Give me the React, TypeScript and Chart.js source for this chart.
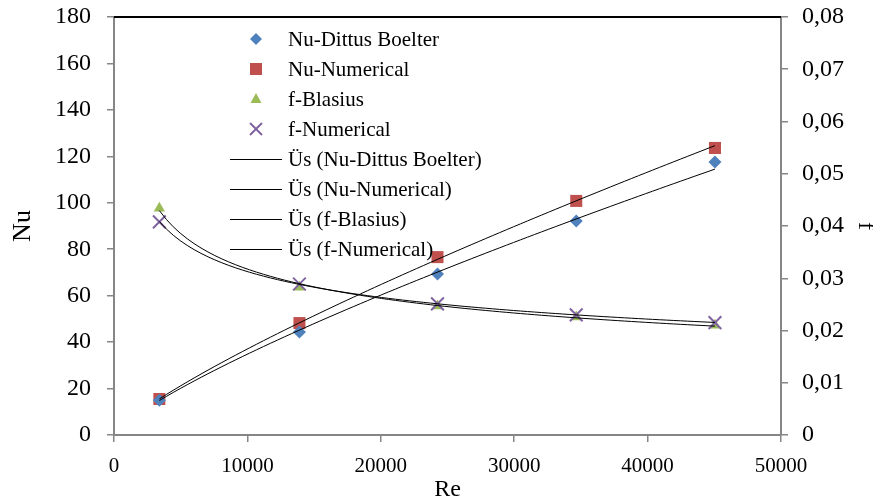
import { useEffect, useRef } from 'react';
import { Chart, registerables } from 'chart.js';

Chart.register(...registerables);

// ---- data ----
const reynolds = [3400, 13900, 24250, 34650, 45050];
const nuDittusBoelter = [15.0, 44.4, 69.3, 92.2, 117.6];
const nuNumerical = [15.5, 48.2, 76.6, 100.8, 123.6];
const fBlasius = [0.0434, 0.0283, 0.0247, 0.0226, 0.021];
const fNumerical = [0.0408, 0.0289, 0.0251, 0.023, 0.0215];

const seriesNames = ['Nu-Dittus Boelter', 'Nu-Numerical', 'f-Blasius', 'f-Numerical'];
const trendPrefix = 'Üs';
const xAxisTitle = 'Re';
const yAxisTitle = 'Nu';
const y1AxisTitle = 'f';

const COLORS = ['#4F81BD', '#C0504D', '#9BBB59', '#8064A2'];
const FONT = "'Liberation Serif', 'Times New Roman', serif";

// Power trendline (Excel "Üs"): y = a * x^b, least squares in log-log space
function powerFit(xs: number[], ys: number[]) {
  const lx = xs.map(Math.log);
  const ly = ys.map(Math.log);
  const n = xs.length;
  const mx = lx.reduce((s, v) => s + v, 0) / n;
  const my = ly.reduce((s, v) => s + v, 0) / n;
  let num = 0;
  let den = 0;
  for (let i = 0; i < n; i++) {
    num += (lx[i] - mx) * (ly[i] - my);
    den += (lx[i] - mx) * (lx[i] - mx);
  }
  const b = num / den;
  const a = Math.exp(my - b * mx);
  const x0 = Math.min(...xs);
  const x1 = Math.max(...xs);
  const pts: { x: number; y: number }[] = [];
  const steps = 80;
  for (let i = 0; i <= steps; i++) {
    const x = x0 + ((x1 - x0) * i) / steps;
    pts.push({ x, y: a * Math.pow(x, b) });
  }
  return pts;
}

const toPts = (ys: number[]) => reynolds.map((x, i) => ({ x, y: ys[i] }));

const overlayPlugin = {
  id: 'overlay',
  afterDraw(chart: any) {
    const ctx = chart.ctx as CanvasRenderingContext2D;
    const { left, right, top } = chart.chartArea;
    ctx.save();
    // top border
    ctx.strokeStyle = '#000';
    ctx.lineWidth = 2;
    ctx.beginPath();
    ctx.moveTo(left, top);
    ctx.lineTo(right, top);
    ctx.stroke();

    // legend
    const lx = left + 116;
    const mx = left + 142;
    const tx = left + 174;
    const y0 = top + 22;
    const dy = 30;
    ctx.font = `21px ${FONT}`;
    ctx.textBaseline = 'middle';
    ctx.textAlign = 'left';
    const labels = [
      ...seriesNames,
      ...seriesNames.map((s) => `${trendPrefix} (${s})`),
    ];
    labels.forEach((label, i) => {
      const y = y0 + i * dy;
      if (i < 4) {
        ctx.fillStyle = COLORS[i];
        ctx.strokeStyle = COLORS[i];
        ctx.beginPath();
        if (i === 0) {
          ctx.moveTo(mx, y - 6);
          ctx.lineTo(mx + 6, y);
          ctx.lineTo(mx, y + 6);
          ctx.lineTo(mx - 6, y);
          ctx.closePath();
          ctx.fill();
        } else if (i === 1) {
          ctx.rect(mx - 6, y - 6, 12, 12);
          ctx.fill();
        } else if (i === 2) {
          ctx.moveTo(mx, y - 6);
          ctx.lineTo(mx + 5.5, y + 4);
          ctx.lineTo(mx - 5.5, y + 4);
          ctx.closePath();
          ctx.fill();
        } else {
          ctx.lineWidth = 2;
          ctx.moveTo(mx - 6, y - 6);
          ctx.lineTo(mx + 6, y + 6);
          ctx.moveTo(mx + 6, y - 6);
          ctx.lineTo(mx - 6, y + 6);
          ctx.stroke();
        }
      } else {
        ctx.strokeStyle = '#000';
        ctx.lineWidth = 1;
        ctx.beginPath();
        ctx.moveTo(lx, y + 0.5);
        ctx.lineTo(lx + 52, y + 0.5);
        ctx.stroke();
      }
      ctx.fillStyle = '#000';
      ctx.fillText(label, tx, y + 1);
    });
    ctx.restore();
  },
};

export default function App() {
  const ref = useRef<HTMLCanvasElement | null>(null);

  useEffect(() => {
    if (!ref.current) return;
    const trendDs = (ys: number[], axis: string) => ({
      label: 'trend',
      data: powerFit(reynolds, ys),
      yAxisID: axis,
      showLine: true,
      borderColor: '#000',
      borderWidth: 1,
      pointRadius: 0,
      fill: false,
      tension: 0,
      order: 0,
    });
    const chart = new Chart(ref.current, {
      type: 'scatter',
      data: {
        datasets: [
          {
            label: seriesNames[0],
            data: toPts(nuDittusBoelter),
            yAxisID: 'y',
            pointStyle: 'rectRot',
            pointRadius: 6.5,
            backgroundColor: COLORS[0],
            borderColor: COLORS[0],
            borderWidth: 0,
            order: 2,
          },
          {
            label: seriesNames[1],
            data: toPts(nuNumerical),
            yAxisID: 'y',
            pointStyle: 'rect',
            pointRadius: 8.5,
            backgroundColor: COLORS[1],
            borderColor: COLORS[1],
            borderWidth: 0,
            order: 2,
          },
          {
            label: seriesNames[2],
            data: toPts(fBlasius),
            yAxisID: 'y1',
            pointStyle: 'triangle',
            pointRadius: 6.5,
            backgroundColor: COLORS[2],
            borderColor: COLORS[2],
            borderWidth: 0,
            order: 2,
          },
          {
            label: seriesNames[3],
            data: toPts(fNumerical),
            yAxisID: 'y1',
            pointStyle: 'crossRot',
            pointRadius: 9,
            backgroundColor: COLORS[3],
            borderColor: COLORS[3],
            borderWidth: 2,
            order: 1,
          },
          trendDs(nuDittusBoelter, 'y'),
          trendDs(nuNumerical, 'y'),
          trendDs(fBlasius, 'y1'),
          trendDs(fNumerical, 'y1'),
        ] as any,
      },
      options: {
        responsive: false,
        animation: false,
        devicePixelRatio: 1,
        layout: { padding: { top: 17, left: 0, right: 0, bottom: 0 } },
        plugins: {
          legend: { display: false },
          tooltip: { enabled: false },
        },
        scales: {
          x: {
            type: 'linear',
            min: 0,
            max: 50000,
            afterFit: (s: any) => {
              s.height = 67;
              s.paddingLeft = 0;
              s.paddingRight = 0;
            },
            ticks: {
              stepSize: 10000,
              color: '#000',
              font: { family: FONT, size: 21 },
              padding: 12,
              maxRotation: 0,
              callback: (v: any) => String(v),
            },
            grid: {
              drawOnChartArea: false,
              drawTicks: true,
              tickLength: 7,
              color: '#868686',
              lineWidth: 1.5,
            },
            border: { display: true, color: '#868686', width: 2 },
            title: {
              display: true,
              text: xAxisTitle,
              color: '#000',
              font: { family: FONT, size: 24 },
              padding: { top: 0, bottom: -2 },
            },
          },
          y: {
            type: 'linear',
            position: 'left',
            min: 0,
            max: 180,
            afterFit: (s: any) => {
              s.width = 114;
              s.paddingTop = 0;
              s.paddingBottom = 0;
            },
            ticks: {
              stepSize: 20,
              color: '#000',
              font: { family: FONT, size: 24 },
              padding: 16,
            },
            grid: {
              drawOnChartArea: false,
              drawTicks: true,
              tickLength: 7,
              color: '#868686',
              lineWidth: 1.5,
            },
            border: { display: true, color: '#868686', width: 2 },
            title: {
              display: true,
              text: yAxisTitle,
              color: '#000',
              font: { family: FONT, size: 26 },
              padding: { top: 8, bottom: 0 },
            },
          },
          y1: {
            type: 'linear',
            position: 'right',
            min: 0,
            max: 0.08,
            afterFit: (s: any) => {
              s.width = 92;
              s.paddingTop = 0;
              s.paddingBottom = 0;
            },
            ticks: {
              stepSize: 0.01,
              color: '#000',
              font: { family: FONT, size: 24 },
              padding: 14,
              callback: (v: any) =>
                Number(v) === 0 ? '0' : Number(v).toFixed(2).replace('.', ','),
            },
            grid: {
              drawOnChartArea: false,
              drawTicks: true,
              tickLength: 7,
              color: '#868686',
              lineWidth: 1.5,
            },
            border: { display: true, color: '#868686', width: 2 },
            title: {
              display: true,
              text: y1AxisTitle,
              color: '#000',
              font: { family: FONT, size: 24 },
              padding: { top: -7, bottom: 0 },
            },
          },
        },
      } as any,
      plugins: [overlayPlugin],
    });
    return () => chart.destroy();
  }, []);

  return (
    <div
      style={{
        position: 'absolute',
        left: 0,
        top: 0,
        width: 873,
        height: 502,
        background: '#fff',
      }}
    >
      <canvas ref={ref} width={873} height={502} />
    </div>
  );
}
